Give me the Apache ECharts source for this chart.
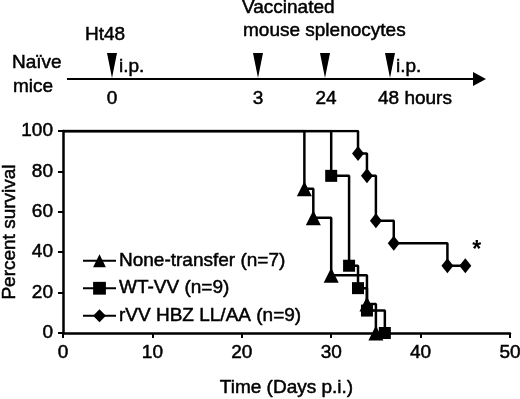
<!DOCTYPE html>
<html><head><meta charset="utf-8">
<script src="https://cdn.jsdelivr.net/npm/echarts@6/dist/echarts.min.js"></script>
<style>html,body{margin:0;padding:0;background:#fff}#c{width:520px;height:399px}</style>
</head><body><div id="c"></div>
<script>
// Survival data (days p.i., percent survival)
const seriesNames = ['None-transfer (n=7)', 'WT-VV (n=9)', 'rVV HBZ LL/AA (n=9)'];
const daysNone = [0, 27, 28, 30, 34, 35];
const survNone = [100, 71.4, 57.1, 28.6, 14.3, 0];
const daysWT = [0, 30, 32, 33, 34, 36];
const survWT = [100, 77.8, 33.3, 22.2, 11.1, 0];
const daysRVV = [0, 33, 34, 35, 37, 43, 45];
const survRVV = [100, 88.9, 77.8, 55.6, 44.4, 33.3, 33.3];
const xTicks = [0, 10, 20, 30, 40, 50];
const yTicks = [0, 20, 40, 60, 80, 100];
// Timeline schematic labels
const timeLabels = ['0', '3', '24', '48 hours'];

const FONT = '"Liberation Sans", Arial, sans-serif';
const FS = 19;
const FW = 'normal';
const TB = 0.5; // slight stroke to match the heavier print

function mk(days, surv, lastStar) {
  return days.map((d, i) => {
    const o = { value: [d, surv[i]] };
    if (i === 0) o.symbol = 'none';
    if (lastStar && i === days.length - 1) {
      o.label = { show: true, formatter: '*', position: [13, -19], fontSize: 23, fontWeight: 'bold', color: '#000', fontFamily: FONT };
    }
    return o;
  });
}

const chart = echarts.init(document.getElementById('c'), null, { renderer: 'canvas' });

const lineStyle = { color: '#000', width: 2.5 };
const itemStyle = { color: '#000' };

const tlY = 79;
const tri = (x) => ({
  type: 'polygon',
  shape: { points: [[x - 5, 53], [x + 5, 53], [x, 78]] },
  style: { fill: '#000' }
});
const txt = (x, y, t, align) => ({
  type: 'text', x: x, y: y,
  style: { text: t, fill: '#000', font: FW + ' ' + FS + 'px ' + FONT, align: align || 'left', verticalAlign: 'middle',
           stroke: '#000', lineWidth: TB }
});
const triX = [112, 258, 325, 390];
const axText = { fontSize: FS, fontWeight: FW, color: '#000', fontFamily: FONT, textBorderColor: '#000', textBorderWidth: TB };

chart.setOption({
  animation: false,
  backgroundColor: '#fff',
  grid: { left: 63, top: 131, width: 447, height: 202, containLabel: false, outerBoundsMode: 'none' },
  xAxis: {
    type: 'value', min: 0, max: 50, interval: 10,
    name: 'Time (Days p.i.)', nameLocation: 'middle', nameGap: 45, nameMoveOverlap: false,
    nameTextStyle: axText,
    axisLine: { show: true, lineStyle: { color: '#000', width: 2.5 } },
    axisTick: { show: true, length: 5, lineStyle: { color: '#000', width: 2 } },
    axisLabel: Object.assign({ margin: 10 }, axText),
    splitLine: { show: false }
  },
  yAxis: {
    type: 'value', min: 0, max: 100, interval: 20,
    name: 'Percent survival', nameLocation: 'middle', nameGap: 44, nameRotate: 90, nameMoveOverlap: false,
    nameTextStyle: axText,
    axisLine: { show: true, lineStyle: { color: '#000', width: 2.5 } },
    axisTick: { show: true, length: 5, lineStyle: { color: '#000', width: 2 } },
    axisLabel: Object.assign({ margin: 10 }, axText),
    splitLine: { show: false }
  },
  legend: {
    orient: 'vertical', left: 77, top: 246,
    itemWidth: 33, itemHeight: 16, itemGap: 8,
    textStyle: Object.assign({ padding: [0, 0, 0, -2] }, axText),
    data: seriesNames
  },
  series: [
    { name: seriesNames[0], type: 'line', step: 'end', data: mk(daysNone, survNone),
      symbol: 'triangle', symbolSize: 15, showAllSymbol: true,
      lineStyle: lineStyle, itemStyle: itemStyle, z: 3 },
    { name: seriesNames[1], type: 'line', step: 'end', data: mk(daysWT, survWT),
      symbol: 'rect', symbolSize: 12, showAllSymbol: true,
      lineStyle: lineStyle, itemStyle: itemStyle, z: 2 },
    { name: seriesNames[2], type: 'line', step: 'end', data: mk(daysRVV, survRVV, true),
      symbol: 'diamond', symbolSize: [12, 15], showAllSymbol: true,
      lineStyle: lineStyle, itemStyle: itemStyle, z: 4 }
  ],
  graphic: [
    { type: 'line', shape: { x1: 67, y1: tlY, x2: 476, y2: tlY }, style: { stroke: '#000', lineWidth: 2 } },
    { type: 'polygon', shape: { points: [[473, 72], [486, tlY], [473, 86]] }, style: { fill: '#000' } },
    tri(triX[0]), tri(triX[1]), tri(triX[2]), tri(triX[3]),
    txt(12, 63, 'Naïve'), txt(13, 87, 'mice'),
    txt(85, 35, 'Ht48'),
    txt(119, 67, 'i.p.'),
    txt(396, 67, 'i.p.'),
    txt(242, 8, 'Vaccinated'),
    txt(243, 31, 'mouse splenocytes'),
    txt(triX[0], 99, timeLabels[0], 'center'),
    txt(triX[1], 99, timeLabels[1], 'center'),
    txt(triX[2] + 1, 99, timeLabels[2], 'center'),
    txt(378, 99, timeLabels[3])
  ]
});
</script></body></html>
